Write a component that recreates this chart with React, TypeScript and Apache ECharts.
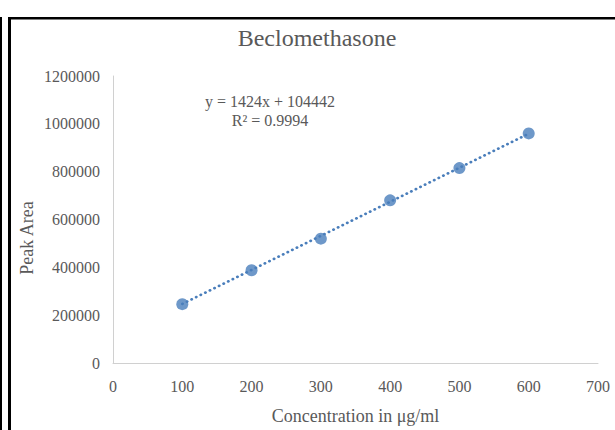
import React, { useEffect, useRef } from "react";
import * as echarts from "echarts";

// Calibration data: concentration (µg/ml) vs. peak area
const concentrations = [100, 200, 300, 400, 500, 600];
const peakAreas = [246000, 388000, 520000, 680000, 815000, 960000];

// Linear fit reported on the chart
const slope = 1424;
const intercept = 104442;
const rSquared = "0.9994";

const xTicks = [0, 100, 200, 300, 400, 500, 600, 700];
const yTicks = [0, 200000, 400000, 600000, 800000, 1000000, 1200000];

const SERIF = "'Liberation Serif', 'Times New Roman', serif";
const TEXT = "#595959";
const BLUE = "#4a7ebb";

export default function App() {
  const ref = useRef<HTMLDivElement>(null);

  useEffect(() => {
    if (!ref.current) return;
    const chart = echarts.init(ref.current, undefined, { renderer: "svg" });

    const xFit = [concentrations[0], concentrations[concentrations.length - 1]];
    const trend = xFit.map((x) => [x, slope * x + intercept]);

    chart.setOption({
      animation: false,
      backgroundColor: "#ffffff",
      title: {
        text: "Beclomethasone",
        left: 312,
        top: 21,
        textAlign: "center",
        textStyle: { fontFamily: SERIF, fontSize: 24, fontWeight: "normal", color: TEXT },
      },
      grid: { left: 113, right: 17, top: 76, bottom: 66, containLabel: false },
      xAxis: {
        type: "value",
        min: xTicks[0],
        max: xTicks[xTicks.length - 1],
        interval: 100,
        name: "Concentration in μg/ml",
        nameLocation: "middle",
        nameGap: 44,
        nameTextStyle: { fontFamily: SERIF, fontSize: 18, color: TEXT },
        axisLine: { show: true, lineStyle: { color: "#d0d0d0", width: 1 } },
        axisTick: { show: false },
        splitLine: { show: false },
        axisLabel: { fontFamily: SERIF, fontSize: 16, color: TEXT, margin: 15 },
      },
      yAxis: {
        type: "value",
        min: yTicks[0],
        max: yTicks[yTicks.length - 1],
        interval: 200000,
        axisLine: { show: true, lineStyle: { color: "#d0d0d0", width: 1 } },
        axisTick: { show: false },
        splitLine: { show: false },
        axisLabel: {
          fontFamily: SERIF,
          fontSize: 16,
          color: TEXT,
          margin: 13,
          formatter: (v: number) => String(v),
        },
      },
      graphic: [
        // frame lines
        { type: "rect", shape: { x: 0, y: 17, width: 2, height: 413 }, style: { fill: "#000" } },
        { type: "rect", shape: { x: 8, y: 17, width: 3, height: 413 }, style: { fill: "#000" } },
        { type: "rect", shape: { x: 8, y: 17, width: 607, height: 2.5 }, style: { fill: "#000" } },
        {
          type: "text",
          x: 27,
          y: 238,
          rotation: Math.PI / 2,
          style: {
            text: "Peak Area",
            font: `18px ${SERIF}`,
            fill: TEXT,
            textAlign: "center",
            textVerticalAlign: "middle",
          },
        },
        {
          type: "text",
          x: 270,
          y: 101,
          style: {
            text: `y = ${slope}x + ${intercept}`,
            font: `16px ${SERIF}`,
            fill: TEXT,
            textAlign: "center",
            textVerticalAlign: "middle",
          },
        },
        {
          type: "text",
          x: 270,
          y: 120,
          style: {
            text: `R² = ${rSquared}`,
            font: `16px ${SERIF}`,
            fill: TEXT,
            textAlign: "center",
            textVerticalAlign: "middle",
          },
        },
      ],
      series: [
        {
          name: "Linear fit",
          type: "line",
          data: trend,
          symbol: "none",
          silent: true,
          z: 1,
          lineStyle: { color: BLUE, width: 2.6, type: [0.5, 4.6], cap: "round" },
        },
        {
          name: "Peak Area",
          type: "scatter",
          data: concentrations.map((c, i) => [c, peakAreas[i]]),
          symbol: "circle",
          symbolSize: 12,
          z: 2,
          itemStyle: { color: BLUE },
        },
      ],
    });

    return () => chart.dispose();
  }, []);

  return (
    <div
      ref={ref}
      style={{ position: "fixed", left: 0, top: 0, width: 615, height: 430, background: "#fff" }}
    />
  );
}
